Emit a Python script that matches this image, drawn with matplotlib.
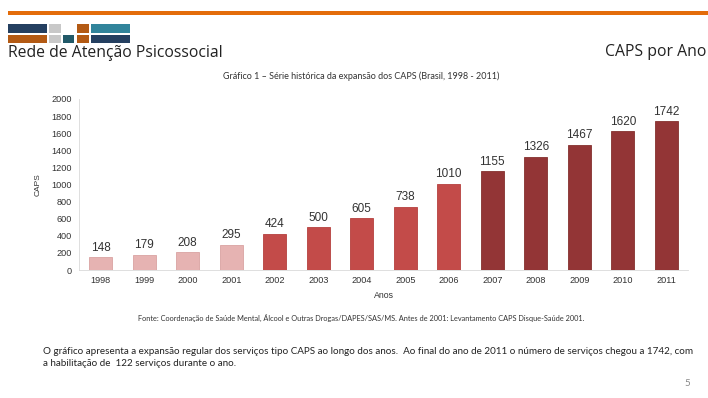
import matplotlib.pyplot as plt
from matplotlib.patches import Rectangle

anos = ['1998', '1999', '2000', '2001', '2002', '2003', '2004',
        '2005', '2006', '2007', '2008', '2009', '2010', '2011']
caps = [148, 179, 208, 295, 424, 500, 605, 738, 1010, 1155, 1326, 1467, 1620, 1742]
grupo = [0, 0, 0, 0, 1, 1, 1, 1, 1, 2, 2, 2, 2, 2]   # fase de cor de cada barra
cores = ['#E6B3B2', '#C34B49', '#933536']
bordas = ['#D9A3A2', '#B5403E', '#85302E']
yticks = list(range(0, 2001, 200))

fig = plt.figure(figsize=(7.08, 3.98), dpi=100)
W, H = 708, 398

# cabecalho (barra laranja + blocos do logotipo)
fig.add_artist(Rectangle((8 / W, 1 - 15 / H), 700 / W, 4 / H, color='#E36C0A',
                         transform=fig.transFigure, lw=0))
blocos = [(8, 24, 39, 9, '#243F60'), (49, 24, 12, 9, '#C8C8C8'),
          (77, 24, 12, 9, '#B35A14'), (91, 24, 39, 9, '#31849B'),
          (8, 35, 39, 8, '#B35A14'), (49, 35, 12, 8, '#C8C8C8'),
          (63, 35, 11, 8, '#215968'), (77, 35, 12, 8, '#B35A14'),
          (91, 35, 39, 8, '#243F60')]
for x, y, w, h, c in blocos:
    fig.add_artist(Rectangle((x / W, 1 - (y + h) / H), w / W, h / H, color=c,
                             transform=fig.transFigure, lw=0))

fig.text(8 / W, 1 - 57 / H, 'Rede de Atenção Psicossocial', fontsize=11.3,
         family='Open Sans', color='#222222', va='baseline')
fig.text(706 / W, 1 - 56 / H, 'CAPS por Ano', fontsize=11.3,
         family='Open Sans', color='#222222', ha='right', va='baseline')
fig.text(361 / W, 1 - 76 / H,
         'Gráfico 1 – Série histórica da expansão dos CAPS (Brasil, 1998 - 2011)',
         fontsize=6.5, family='Lato', color='#333333', ha='center', va='center')

ax = fig.add_axes([79 / W, 1 - 270 / H, 609 / W, 171 / H])
x = range(len(anos))
ax.bar(x, caps, width=0.53, color=[cores[g] for g in grupo],
       edgecolor=[bordas[g] for g in grupo], linewidth=0.6, zorder=2)
for i, v in zip(x, caps):
    ax.text(i, v + 40, str(v), ha='center', va='bottom', fontsize=8.5,
            family='Liberation Sans', color='#333333')

ax.set_xlim(-0.5, len(anos) - 0.5)
ax.set_ylim(0, 2000)
ax.set_yticks(yticks)
ax.set_yticklabels([str(t) for t in yticks], fontsize=6.6, family='Liberation Sans',
                   color='#333333')
ax.set_xticks(list(x))
ax.set_xticklabels(anos, fontsize=6.6, family='Liberation Sans', color='#333333')
ax.tick_params(axis='y', length=0, pad=5)
ax.tick_params(axis='x', length=0, pad=4)
for s in ['top', 'right']:
    ax.spines[s].set_visible(False)
ax.spines['left'].set_color('#D9D9D9')
ax.spines['bottom'].set_color('#D9D9D9')
ax.spines['left'].set_linewidth(0.6)
ax.spines['bottom'].set_linewidth(0.6)
ax.set_ylabel('CAPS', fontsize=6, family='Liberation Sans', color='#333333',
              labelpad=7)
ax.set_xlabel('Anos', fontsize=6.3, family='Liberation Sans', color='#333333',
              labelpad=5)

fig.text(361 / W, 1 - 318 / H,
         'Fonte: Coordenação de Saúde Mental, Álcool e Outras Drogas/DAPES/SAS/MS. '
         'Antes de 2001: Levantamento CAPS Disque-Saúde 2001.',
         fontsize=5.3, family='Lato', color='#333333', ha='center', va='center')
fig.text(43 / W, 1 - 352 / H,
         'O gráfico apresenta a expansão regular dos serviços tipo CAPS ao longo dos anos.  '
         'Ao final do ano de 2011 o número de serviços chegou a 1742, com',
         fontsize=7.1, family='Lato', color='#222222', va='center')
fig.text(43 / W, 1 - 363 / H, 'a habilitação de  122 serviços durante o ano.',
         fontsize=7.1, family='Lato', color='#222222', va='center')
fig.text(684 / W, 1 - 383 / H, '5', fontsize=7, family='Lato', color='#888888',
         va='center')

fig.savefig('out.png', dpi=100)
